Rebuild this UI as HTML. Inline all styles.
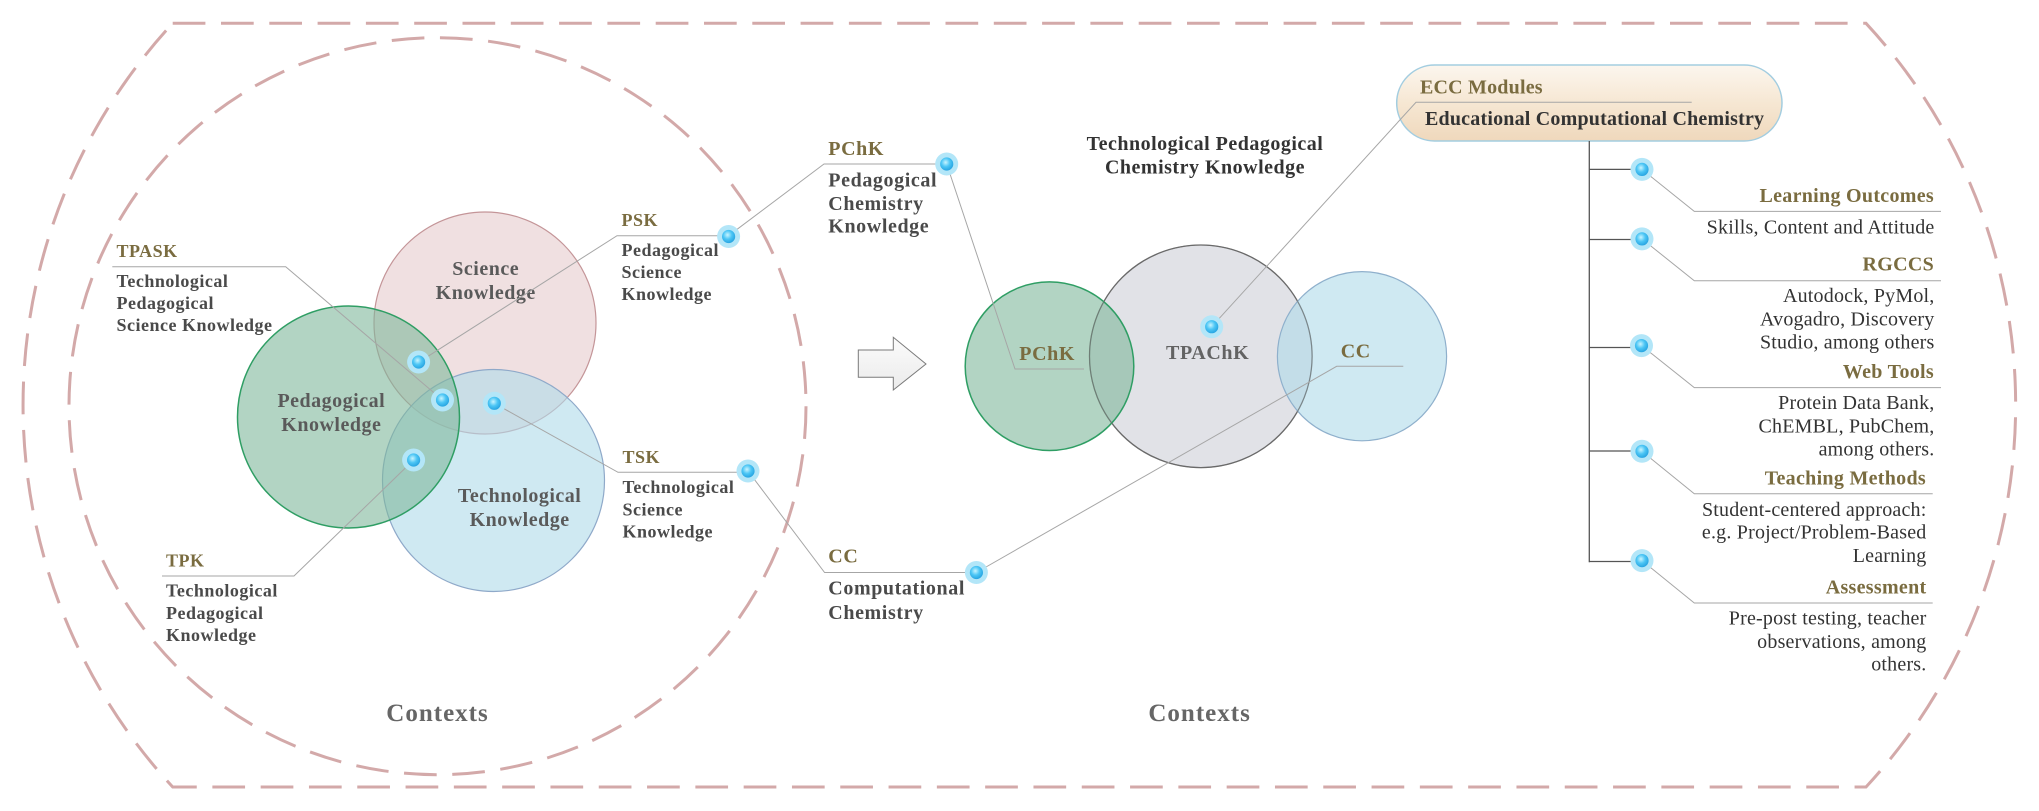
<!DOCTYPE html>
<html>
<head>
<meta charset="utf-8">
<style>
  html,body{margin:0;padding:0;background:#ffffff;}
  svg{display:block;}
  .t18{font-family:"Liberation Serif",serif;font-weight:bold;font-size:18px;letter-spacing:0.5px;fill:#4a4a4a;}
  .h18{font-family:"Liberation Serif",serif;font-weight:bold;font-size:18px;letter-spacing:0.5px;fill:#7a6c40;}
  .v20{font-family:"Liberation Serif",serif;font-weight:bold;font-size:20px;letter-spacing:0.5px;fill:#5a5a5a;}
  .m20{font-family:"Liberation Serif",serif;font-weight:bold;font-size:20px;letter-spacing:0.6px;fill:#4a4a4a;}
  .o20{font-family:"Liberation Serif",serif;font-weight:bold;font-size:20px;letter-spacing:0.6px;fill:#7a6c40;}
  .ti{font-family:"Liberation Serif",serif;font-weight:bold;font-size:20px;letter-spacing:0.5px;fill:#333333;}
  .r20{font-family:"Liberation Serif",serif;font-size:20px;letter-spacing:0.2px;fill:#333333;}
  .rt{font-family:"Liberation Serif",serif;font-weight:bold;font-size:20px;letter-spacing:0.3px;fill:#7a6c40;}
  .ctx{font-family:"Liberation Serif",serif;font-weight:bold;font-size:25px;letter-spacing:1px;fill:#666666;}
  .ln{fill:none;stroke:#a6a6a6;stroke-width:1;}
</style>
</head>
<body>
<svg width="2039" height="811" viewBox="0 0 2039 811" xmlns="http://www.w3.org/2000/svg">
  <defs>
    <radialGradient id="dg" cx="0.42" cy="0.38" r="0.65">
      <stop offset="0" stop-color="#c8f4ff"/>
      <stop offset="0.5" stop-color="#4cc6f5"/>
      <stop offset="1" stop-color="#25a2e0"/>
    </radialGradient>
    <linearGradient id="ecc" x1="0" y1="0" x2="0" y2="1">
      <stop offset="0" stop-color="#fcf6ee"/>
      <stop offset="0.5" stop-color="#f6e7d3"/>
      <stop offset="1" stop-color="#efd8bc"/>
    </linearGradient>
    <linearGradient id="arr" x1="0" y1="0" x2="0" y2="1">
      <stop offset="0" stop-color="#fbfbfb"/>
      <stop offset="1" stop-color="#ebebeb"/>
    </linearGradient>
  </defs>

  <!-- outer dashed stadium -->
  <path d="M172.7,23.3 L1866,23.3 A562,562 0 0 1 1866,787 L172.7,787 A562,562 0 0 1 172.7,23.3 Z"
        fill="none" stroke="#d3a9a9" stroke-width="3" stroke-dasharray="32.7 15.6"/>
  <!-- inner dashed circle -->
  <circle cx="437.5" cy="406.2" r="368.5" fill="none" stroke="#d3a9a9" stroke-width="3" stroke-dasharray="32.7 15.6"/>

  <!-- left Venn -->
  <circle cx="485" cy="323" r="111" fill="rgb(225,193,195)" fill-opacity="0.5" stroke="#c49598" stroke-width="1.2"/>
  <circle cx="493.5" cy="480.5" r="111" fill="rgb(175,218,233)" fill-opacity="0.6" stroke="#8fa9c9" stroke-width="1.2"/>
  <circle cx="348.5" cy="417" r="111" fill="rgb(127,183,155)" fill-opacity="0.6" stroke="#2f9e64" stroke-width="1.5"/>

  <text class="v20" x="485.7" y="275" text-anchor="middle">Science</text>
  <text class="v20" x="485.7" y="299" text-anchor="middle">Knowledge</text>
  <text class="v20" x="331.3" y="407" text-anchor="middle">Pedagogical</text>
  <text class="v20" x="331.3" y="431" text-anchor="middle">Knowledge</text>
  <text class="v20" x="519.6" y="502" text-anchor="middle">Technological</text>
  <text class="v20" x="519.6" y="526" text-anchor="middle">Knowledge</text>

  <!-- middle Venn -->
  <circle cx="1200.8" cy="356.3" r="111.3" fill="#e1e2e7" stroke="#6a6a6a" stroke-width="1.3"/>
  <circle cx="1049.5" cy="366.2" r="84.3" fill="rgb(127,183,155)" fill-opacity="0.6" stroke="#2f9e64" stroke-width="1.5"/>
  <circle cx="1362" cy="356.2" r="84.6" fill="rgb(175,218,233)" fill-opacity="0.6" stroke="#8fb0cc" stroke-width="1.2"/>
  <circle cx="1200.8" cy="356.3" r="111.3" fill="none" stroke="#6a6a6a" stroke-width="1.1" stroke-opacity="0.6"/>

  <!-- leader lines -->
  <polyline class="ln" points="112.3,266.7 285.7,266.7 442.5,400"/>
  <polyline class="ln" points="418.6,362.3 617,235.7 728.6,235.7"/>
  <polyline class="ln" points="728.6,235.7 824,164 946.7,164"/>
  <polyline class="ln" points="946.7,164 1015,369 1084,369"/>
  <polyline class="ln" points="494.3,403.3 618,472.3 748,472.3"/>
  <polyline class="ln" points="748,471 824.6,572.5 976.4,572.5"/>
  <polyline class="ln" points="976.4,572.5 1336.7,366.3 1403.3,366.3"/>
  <polyline class="ln" points="162,576 294,576 413.6,460"/>

  <!-- labels left -->
  <text class="h18" x="116.5" y="257">TPASK</text>
  <text class="t18" x="116.5" y="287">Technological</text>
  <text class="t18" x="116.5" y="309">Pedagogical</text>
  <text class="t18" x="116.5" y="331">Science Knowledge</text>

  <text class="h18" x="621.5" y="226">PSK</text>
  <text class="t18" x="621.5" y="256">Pedagogical</text>
  <text class="t18" x="621.5" y="278">Science</text>
  <text class="t18" x="621.5" y="300">Knowledge</text>

  <text class="h18" x="622.5" y="463">TSK</text>
  <text class="t18" x="622.5" y="493">Technological</text>
  <text class="t18" x="622.5" y="515.5">Science</text>
  <text class="t18" x="622.5" y="537.5">Knowledge</text>

  <text class="h18" x="166" y="566.6">TPK</text>
  <text class="t18" x="166" y="596.7">Technological</text>
  <text class="t18" x="166" y="619">Pedagogical</text>
  <text class="t18" x="166" y="641">Knowledge</text>

  <text class="ctx" x="437.5" y="721" text-anchor="middle">Contexts</text>

  <!-- arrow -->
  <polygon points="858.3,350 893.3,350 893.3,337.3 926,364 893.3,390 893.3,377.3 858.3,377.3"
           fill="url(#arr)" stroke="#7a7a7a" stroke-width="1"/>

  <!-- middle labels -->
  <text class="o20" x="828.3" y="155">PChK</text>
  <text class="m20" x="828.3" y="186.7">Pedagogical</text>
  <text class="m20" x="828.3" y="210">Chemistry</text>
  <text class="m20" x="828.3" y="232.7">Knowledge</text>

  <text class="o20" x="828.3" y="562.6">CC</text>
  <text class="m20" x="828.3" y="594.6">Computational</text>
  <text class="m20" x="828.3" y="619">Chemistry</text>

  <text class="ti" x="1205" y="150" text-anchor="middle">Technological Pedagogical</text>
  <text class="ti" x="1205" y="173.4" text-anchor="middle">Chemistry Knowledge</text>

  <text class="o20" x="1019.3" y="360">PChK</text>
  <text class="v20" x="1166" y="359" style="fill:#636363;letter-spacing:0.6px">TPAChK</text>
  <text class="o20" x="1340.7" y="357.3">CC</text>

  <text class="ctx" x="1199.6" y="721" text-anchor="middle">Contexts</text>

  <!-- ECC box -->
  <rect x="1396.7" y="65" width="385.3" height="76" rx="38" ry="38" fill="url(#ecc)" stroke="#a3cde0" stroke-width="1.5"/>
  <!-- TPAChK leader -->
  <polyline class="ln" points="1211.7,326.7 1416,102.3 1691.7,102.3"/>
  <text class="o20" x="1420" y="93.3" style="letter-spacing:0.2px">ECC Modules</text>
  <text class="ti" x="1425" y="125" style="letter-spacing:0.2px">Educational Computational Chemistry</text>

  <!-- tree -->
  <g stroke="#555555" stroke-width="1.3" fill="none">
    <line x1="1589.3" y1="141" x2="1589.3" y2="562.2"/>
    <line x1="1589.3" y1="169.4" x2="1634" y2="169.4"/>
    <line x1="1589.3" y1="239.5" x2="1634" y2="239.5"/>
    <line x1="1589.3" y1="347.5" x2="1634" y2="347.5"/>
    <line x1="1589.3" y1="451" x2="1634" y2="451"/>
    <line x1="1589.3" y1="561.5" x2="1634" y2="561.5"/>
  </g>
  <polyline class="ln" points="1642,169.4 1694.3,211.4 1941,211.4"/>
  <polyline class="ln" points="1642,238.9 1694.3,280.8 1941,280.8"/>
  <polyline class="ln" points="1641.5,345.6 1694.3,387.6 1941,387.6"/>
  <polyline class="ln" points="1642,451.3 1694.3,493.8 1932.7,493.8"/>
  <polyline class="ln" points="1642,560.6 1694.3,603 1932.7,603"/>

  <text class="rt" x="1934" y="202" text-anchor="end">Learning Outcomes</text>
  <text class="r20" x="1934.5" y="233.3" text-anchor="end">Skills, Content and Attitude</text>

  <text class="rt" x="1934" y="270.6" text-anchor="end">RGCCS</text>
  <text class="r20" x="1934.5" y="302" text-anchor="end">Autodock, PyMol,</text>
  <text class="r20" x="1934.5" y="325.3" text-anchor="end">Avogadro, Discovery</text>
  <text class="r20" x="1934.5" y="348.6" text-anchor="end">Studio, among others</text>

  <text class="rt" x="1934" y="378" text-anchor="end">Web Tools</text>
  <text class="r20" x="1934.5" y="409.2" text-anchor="end">Protein Data Bank,</text>
  <text class="r20" x="1934.5" y="432.6" text-anchor="end">ChEMBL, PubChem,</text>
  <text class="r20" x="1934.5" y="455.3" text-anchor="end">among others.</text>

  <text class="rt" x="1926" y="484.3" text-anchor="end">Teaching Methods</text>
  <text class="r20" x="1926.5" y="516" text-anchor="end">Student-centered approach:</text>
  <text class="r20" x="1926.5" y="538.6" text-anchor="end">e.g. Project/Problem-Based</text>
  <text class="r20" x="1926.5" y="562" text-anchor="end">Learning</text>

  <text class="rt" x="1926.5" y="593.6" text-anchor="end">Assessment</text>
  <text class="r20" x="1926.5" y="624.6" text-anchor="end">Pre-post testing, teacher</text>
  <text class="r20" x="1926.5" y="648" text-anchor="end">observations, among</text>
  <text class="r20" x="1926.5" y="670.6" text-anchor="end">others.</text>

  <!-- dots -->
  <g>
    <circle cx="418.6" cy="362" r="11.5" fill="#b3e6f8"/><circle cx="418.6" cy="362" r="6.6" fill="url(#dg)"/>
    <circle cx="442.5" cy="400" r="11.5" fill="#b3e6f8"/><circle cx="442.5" cy="400" r="6.6" fill="url(#dg)"/>
    <circle cx="494.3" cy="403.3" r="11.5" fill="#b3e6f8"/><circle cx="494.3" cy="403.3" r="6.6" fill="url(#dg)"/>
    <circle cx="413.6" cy="460" r="11.5" fill="#b3e6f8"/><circle cx="413.6" cy="460" r="6.6" fill="url(#dg)"/>
    <circle cx="728.6" cy="236.5" r="11.5" fill="#b3e6f8"/><circle cx="728.6" cy="236.5" r="6.6" fill="url(#dg)"/>
    <circle cx="748" cy="471" r="11.5" fill="#b3e6f8"/><circle cx="748" cy="471" r="6.6" fill="url(#dg)"/>
    <circle cx="946.7" cy="164" r="11.5" fill="#b3e6f8"/><circle cx="946.7" cy="164" r="6.6" fill="url(#dg)"/>
    <circle cx="976.4" cy="572.5" r="11.5" fill="#b3e6f8"/><circle cx="976.4" cy="572.5" r="6.6" fill="url(#dg)"/>
    <circle cx="1211.7" cy="326.7" r="11.5" fill="#b3e6f8"/><circle cx="1211.7" cy="326.7" r="6.6" fill="url(#dg)"/>
    <circle cx="1642" cy="169.4" r="11.5" fill="#b3e6f8"/><circle cx="1642" cy="169.4" r="6.6" fill="url(#dg)"/>
    <circle cx="1642" cy="238.9" r="11.5" fill="#b3e6f8"/><circle cx="1642" cy="238.9" r="6.6" fill="url(#dg)"/>
    <circle cx="1641.5" cy="345.6" r="11.5" fill="#b3e6f8"/><circle cx="1641.5" cy="345.6" r="6.6" fill="url(#dg)"/>
    <circle cx="1642" cy="451.3" r="11.5" fill="#b3e6f8"/><circle cx="1642" cy="451.3" r="6.6" fill="url(#dg)"/>
    <circle cx="1642" cy="560.6" r="11.5" fill="#b3e6f8"/><circle cx="1642" cy="560.6" r="6.6" fill="url(#dg)"/>
  </g>
</svg>
</body>
</html>
